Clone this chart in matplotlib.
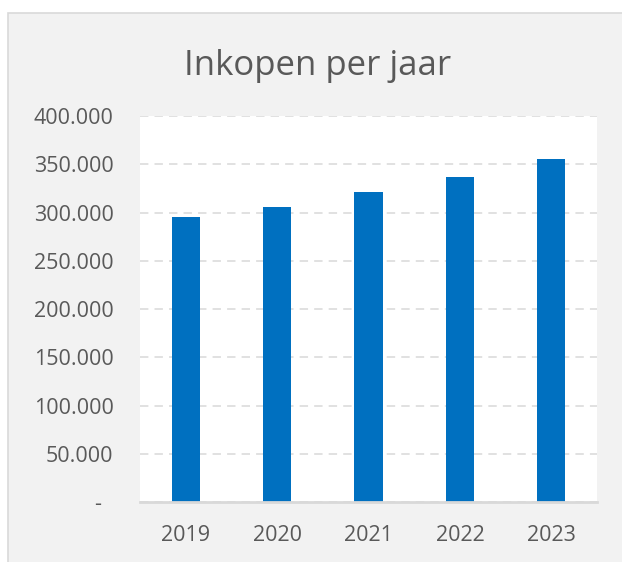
import matplotlib.pyplot as plt
import matplotlib.patches as mpatches

plt.rcParams['font.family'] = ['Open Sans', 'DejaVu Sans']

# data
jaren = ['2019', '2020', '2021', '2022', '2023']
inkopen = [295000, 306000, 321000, 337000, 355000]
y_ticks = [0, 50000, 100000, 150000, 200000, 250000, 300000, 350000, 400000]
y_labels = ['-  ', '50.000', '100.000', '150.000', '200.000', '250.000',
            '300.000', '350.000', '400.000']

text_kleur = '#595959'
grid_kleur = '#d9d9d9'

fig = plt.figure(figsize=(6.22, 5.62), dpi=100, facecolor='white')

# grijs paneel met rand (zoals in Excel)
paneel = mpatches.Rectangle((8 / 622, -0.01), 1.0, 0.9769 + 0.01, transform=fig.transFigure,
                            facecolor='#f2f2f2', edgecolor=grid_kleur, linewidth=1.2, zorder=-10)
fig.patches.append(paneel)

ax = fig.add_axes([140 / 622, 59.7 / 562, 457 / 622, 386.3 / 562])
ax.set_zorder(5)
ax.set_facecolor('white')

x = range(len(jaren))
ax.bar(x, inkopen, width=0.31, color='#0070c0', zorder=3)

ax.set_xlim(-0.5, len(jaren) - 0.5)
ax.set_ylim(0, 400000)
ax.set_xticks(list(x))
ax.set_xticklabels(jaren)
ax.set_yticks(y_ticks)
ax.set_yticklabels(y_labels)

ax.yaxis.grid(True, color=grid_kleur, linewidth=1.1, linestyle=(0, (5.5, 4)), zorder=1)
ax.set_axisbelow(True)

for kant in ['top', 'right', 'left']:
    ax.spines[kant].set_visible(False)
ax.spines['bottom'].set_color(grid_kleur)
ax.spines['bottom'].set_linewidth(2)
ax.spines['bottom'].set_zorder(4)

ax.tick_params(axis='both', length=0, labelsize=15.5, labelcolor=text_kleur)
ax.tick_params(axis='y', pad=19)
ax.tick_params(axis='x', pad=16)

fig.text(0.5105, 1 - 75 / 562, 'Inkopen per jaar', ha='center', va='baseline',
         fontsize=25, color=text_kleur, zorder=6)

fig.savefig('out.png', dpi=100, facecolor=fig.get_facecolor())
